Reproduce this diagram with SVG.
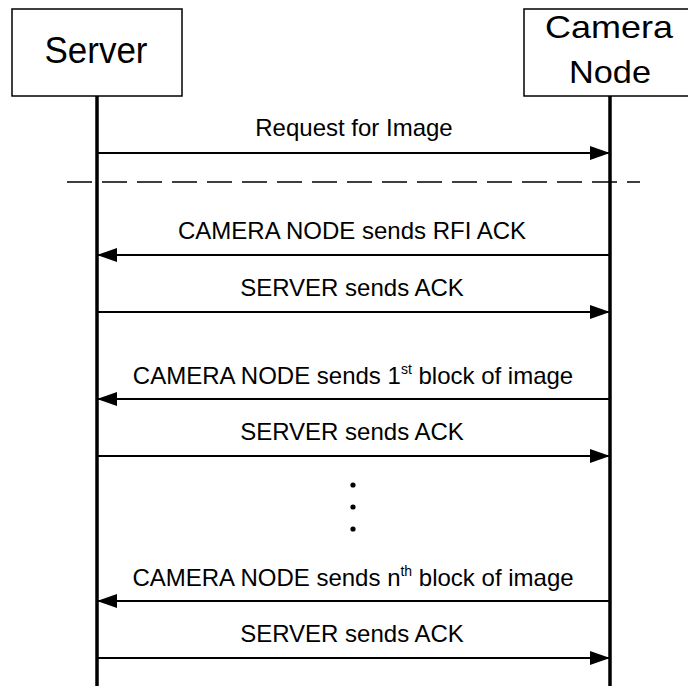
<svg xmlns="http://www.w3.org/2000/svg" width="688" height="686" viewBox="0 0 688 686">
  <defs>
    <style>
      .box { fill: #ffffff; stroke: #000000; stroke-width: 1.5; }
      .life { stroke: #000000; stroke-width: 3.5; fill: none; }
      .msg { stroke: #000000; stroke-width: 2; fill: none; }
      .sep { stroke: #000000; stroke-width: 1.5; fill: none; stroke-dasharray: 25 10; }
      .title { font-family: "Liberation Sans", Arial, sans-serif; fill: #000000; text-anchor: middle; }
      .lbl { font-family: "Liberation Sans", Arial, sans-serif; font-size: 24px; fill: #000000; text-anchor: middle; }
      .sup { font-size: 14px; }
    </style>
    <marker id="arrow" viewBox="0 0 20 14" refX="20" refY="7" markerWidth="20" markerHeight="14" markerUnits="userSpaceOnUse" orient="auto">
      <path d="M0,0 L20,7 L0,14 Z" fill="#000000"/>
    </marker>
  </defs>

  <rect width="688" height="686" fill="#ffffff"/>

  <!-- participants -->
  <g id="server">
    <rect class="box" x="12" y="9" width="170" height="87"/>
    <text class="title" x="96" y="63" font-size="36" textLength="103" lengthAdjust="spacingAndGlyphs">Server</text>
  </g>
  <g id="camera-node">
    <rect class="box" x="524" y="9" width="170" height="87"/>
    <text class="title" x="609" y="38" font-size="32" textLength="128" lengthAdjust="spacingAndGlyphs">Camera</text>
    <text class="title" x="610" y="83" font-size="32" textLength="82" lengthAdjust="spacingAndGlyphs">Node</text>
  </g>

  <!-- lifelines, separator and messages -->
  <g id="connectors">
    <line class="life" x1="97" y1="96" x2="97" y2="686"/>
    <line class="life" x1="610" y1="96" x2="610" y2="686"/>

    <line class="sep" x1="67" y1="182" x2="640" y2="182"/>

    <line class="msg" x1="97" y1="153" x2="610" y2="153" marker-end="url(#arrow)"/>
    <line class="msg" x1="610" y1="255" x2="97" y2="255" marker-end="url(#arrow)"/>
    <line class="msg" x1="97" y1="312" x2="610" y2="312" marker-end="url(#arrow)"/>
    <line class="msg" x1="610" y1="399" x2="97" y2="399" marker-end="url(#arrow)"/>
    <line class="msg" x1="97" y1="456" x2="610" y2="456" marker-end="url(#arrow)"/>
    <line class="msg" x1="610" y1="601" x2="97" y2="601" marker-end="url(#arrow)"/>
    <line class="msg" x1="97" y1="658" x2="610" y2="658" marker-end="url(#arrow)"/>
  </g>

  <!-- message labels -->
  <g id="labels">
    <text class="lbl" x="354" y="136">Request for Image</text>
    <text class="lbl" x="352" y="239">CAMERA NODE sends RFI ACK</text>
    <text class="lbl" x="352" y="296">SERVER sends ACK</text>
    <text class="lbl" x="353" y="384">CAMERA NODE sends 1<tspan class="sup" dy="-10">st</tspan><tspan dy="10"> block of image</tspan></text>
    <text class="lbl" x="352" y="440">SERVER sends ACK</text>
    <text class="lbl" x="353" y="586">CAMERA NODE sends n<tspan class="sup" dy="-10">th</tspan><tspan dy="10"> block of image</tspan></text>
    <text class="lbl" x="352" y="642">SERVER sends ACK</text>
  </g>

  <!-- continuation dots -->
  <g id="ellipsis" fill="#000000">
    <circle cx="353" cy="485" r="2.6"/>
    <circle cx="353" cy="507" r="2.6"/>
    <circle cx="353" cy="529" r="2.6"/>
  </g>
</svg>
